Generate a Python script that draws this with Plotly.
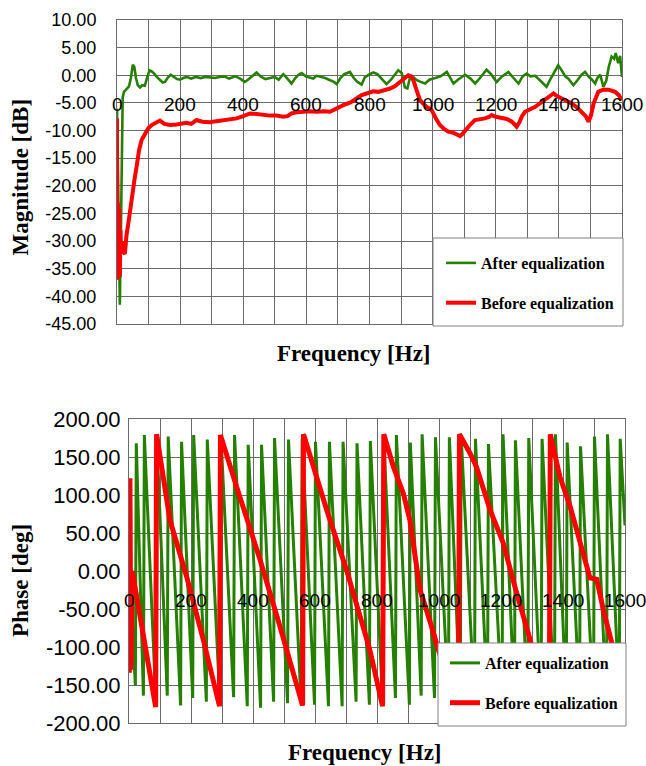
import plotly.graph_objects as go

# ---------------- data ----------------
mag_after_hz = [0, 3, 6, 9, 12, 15, 18, 22, 30, 38, 44, 50, 55, 60, 66, 73, 80, 88, 95, 103, 110, 118, 126, 135, 145, 152, 160, 170, 180, 190, 200, 210, 222, 235, 250, 265, 280, 295, 310, 325, 340, 355, 365, 375, 390, 405, 415, 428, 442, 455, 470, 485, 500, 512, 527, 540, 553, 565, 575, 585, 598, 610, 622, 632, 645, 660, 675, 687, 696, 708, 720, 738, 750, 762, 775, 785, 798, 812, 825, 840, 854, 868, 880, 891, 902, 912, 920, 928, 938, 950, 962, 976, 990, 1007, 1025, 1045, 1055, 1066, 1080, 1093, 1103, 1120, 1135, 1150, 1160, 1171, 1185, 1203, 1220, 1240, 1255, 1272, 1285, 1298, 1310, 1325, 1340, 1361, 1375, 1388, 1398, 1410, 1420, 1430, 1446, 1460, 1472, 1483, 1495, 1505, 1515, 1522, 1531, 1541, 1550, 1558, 1567, 1575, 1580, 1588, 1594, 1600]
mag_after_db = [-6, -20, -38, -41.5, -30, -12, -4, -3, -2.5, -2, -0.5, 1.9, 1.5, -0.5, -1.8, -2.2, -1.8, -1.9, -0.5, 0.9, 0.7, 0.3, -0.3, -0.8, -1.3, -1.2, -0.5, 0.1, -0.3, -0.7, -0.8, -0.5, -0.3, -0.6, -0.3, -0.5, -0.3, -0.4, -0.5, -0.3, -0.2, -0.6, -0.4, -0.2, -0.6, -1.2, -0.8, -0.2, 0.5, -0.2, -0.7, -0.5, -0.3, -0.8, 0.2, -0.6, -1.5, -0.5, 0.1, 0.4, -0.2, -0.4, -0.6, -0.1, -0.3, -0.5, -0.9, -1.2, -1.6, -0.5, 0.2, 0.6, -0.5, -1.2, -1.7, -0.4, 0.1, 0.5, 0.2, -0.8, -1.6, -0.8, 0.2, 0.9, 0.4, -2.2, -2.4, -0.5, -0.3, -0.9, -1.2, -1.5, -0.8, -0.5, -0.2, 0.6, -0.5, -1.5, -0.8, -0.2, 0.1, -0.6, -1.5, -0.5, 0.3, 1.0, 0.2, -1.2, -0.2, 0.6, -0.4, -1.5, -0.2, 0.3, -0.2, -0.1, -0.9, -2.1, -0.5, 0.8, 1.8, 0.8, -0.2, -0.6, -1.8, -0.8, 0.1, 0.6, -0.3, -0.8, -1.5, -0.5, 0.1, -2.1, -1.0, 1.5, 3.4, 3.0, 4.0, 2.2, 3.5, -0.3]

mag_before_hz = [0, 1, 3, 5, 7, 9, 11, 13, 16, 20, 25, 30, 38, 46, 55, 62, 70, 78, 88, 99, 110, 126, 136, 150, 168, 189, 200, 220, 235, 252, 270, 295, 315, 337, 358, 379, 400, 421, 442, 462, 485, 505, 527, 540, 553, 570, 590, 610, 633, 655, 675, 695, 717, 740, 760, 775, 791, 812, 828, 845, 865, 880, 891, 905, 915, 923, 932, 939, 948, 960, 978, 997, 1010, 1023, 1036, 1050, 1065, 1078, 1087, 1095, 1103, 1118, 1134, 1150, 1166, 1180, 1187, 1200, 1219, 1235, 1251, 1260, 1266, 1275, 1283, 1293, 1310, 1325, 1340, 1356, 1370, 1383, 1395, 1409, 1425, 1441, 1457, 1472, 1485, 1494, 1502, 1510, 1518, 1525, 1540, 1557, 1568, 1578, 1590, 1600]
mag_before_db = [-7.8, -37, -23, -36, -24, -36.5, -28, -32, -30, -32, -32.3, -29, -26, -22, -19, -16.6, -13.5, -11.7, -10.5, -9.6, -9.0, -8.5, -8.2, -8.8, -9.0, -8.9, -8.8, -8.6, -8.8, -8.1, -8.4, -8.5, -8.3, -8.1, -8.0, -7.8, -7.4, -6.9, -7.0, -7.2, -7.3, -7.3, -7.5, -7.4, -6.9, -6.7, -6.6, -6.5, -6.6, -6.5, -6.6, -6.0, -5.4, -4.9, -4.2, -3.6, -3.3, -2.9, -3.0, -2.8, -2.4, -2.0, -1.5, -0.8, -0.3, 0.0, -0.2, -0.9, -2.5, -4.5, -5.6, -6.3, -7.8, -9.0, -9.7, -10.2, -10.4, -10.7, -11.0, -10.6, -10.0, -9.0, -8.1, -8.0, -7.8, -7.5, -7.2, -7.5, -7.8, -7.9, -8.4, -9.0, -9.3, -8.5, -7.4, -6.6, -6.2, -5.7, -5.1, -4.5, -3.8, -3.3, -3.8, -4.2, -4.6, -5.1, -5.8, -6.6, -7.4, -8.4, -7.2, -5.1, -3.8, -3.0, -2.6, -2.6, -2.8, -3.0, -3.6, -4.5]

# phase after equalization: wrap frequencies with trough (before) and peak (after) values
green_start_hz, green_start_deg = 0, 20
green_jump_hz = [22, 48, 88, 125, 168, 207, 251, 295, 339, 383, 426, 468, 513, 557, 600, 645, 689, 734, 777, 820, 861, 906, 944, 987, 1032, 1070, 1116, 1158, 1205, 1245, 1288, 1331, 1374, 1412, 1455, 1500, 1542, 1583]
green_trough_deg = [-151, -164, -170, -164, -177, -167, -172, -175, -166, -178, -180, -172, -174, -176, -176, -178, -178, -172, -176, -175, -167, -176, -164, -167, -172, -175, -174, -170, -176, -172, -175, -178, -172, -176, -170, -175, -178, -172]
green_peak_deg = [168, 179, 178, 177, 170, 179, 173, 178, 179, 166, 166, 175, 173, 174, 170, 170, 170, 168, 171, 178, 179, 169, 180, 176, 176, 178, 174, 167, 180, 172, 175, 174, 180, 169, 164, 177, 180, 174]
green_end_hz, green_end_deg = 1600, 60

phase_before_hz = [1, 3, 6, 10, 25, 86, 89, 132, 186, 240, 292, 295, 347, 423, 487, 560, 563, 638, 702, 767, 777, 818, 822, 853, 885, 906, 939, 976, 998, 1063, 1066, 1100, 1121, 1165, 1207, 1245, 1272, 1299, 1356, 1359, 1390, 1423, 1455, 1487, 1509, 1530, 1557, 1600]
phase_before_deg = [-134, 122, -130, 0, -34, -179, 180, 67, -7.5, -91, -178, 179, 111, 14.5, -73, -177, 180, 80, 1, -86, -104, -178, 180, 137, 102, 67, -25, -73, -104, -179, 180, 155, 137, 80, 37, -21, -60, -94, -179, 180, 124, 85, 37, -9, -11, -51, -94, -160]

mag_ticks = [10, 5, 0, -5, -10, -15, -20, -25, -30, -35, -40, -45]
phase_ticks = [200, 150, 100, 50, 0, -50, -100, -150, -200]
freq_grid = list(range(0, 1601, 100))
freq_labels = [0, 200, 400, 600, 800, 1000, 1200, 1400, 1600]

names = ["After equalization", "Before equalization"]

# ---------------- build green phase polyline ----------------
g_hz = [green_start_hz]
g_deg = [green_start_deg]
for j, t, p in zip(green_jump_hz, green_trough_deg, green_peak_deg):
    g_hz += [j - 1.5, j + 1.5]
    g_deg += [t, p]
g_hz.append(green_end_hz)
g_deg.append(green_end_deg)

W, H = 646, 766
GREEN = "#268000"
RED = "#ff0000"
GRID = "#6a6a6a"
TICKFONT = "Liberation Sans, Arial, sans-serif"
SERIF = "Liberation Serif, Times New Roman, serif"


def fmt(v):
    return f"{v:.2f}"


fig = go.Figure()
fig.add_trace(go.Scatter(x=mag_after_hz, y=mag_after_db, mode="lines", name=names[0],
                         line=dict(color=GREEN, width=2.6), xaxis="x", yaxis="y",
                         legend="legend", legendgroup="a"))
fig.add_trace(go.Scatter(x=mag_before_hz, y=mag_before_db, mode="lines", name=names[1],
                         line=dict(color=RED, width=4), xaxis="x", yaxis="y",
                         legend="legend", legendgroup="b"))
fig.add_trace(go.Scatter(x=g_hz, y=g_deg, mode="lines", name=names[0],
                         line=dict(color=GREEN, width=3), xaxis="x2", yaxis="y2",
                         legend="legend2", legendgroup="c"))
fig.add_trace(go.Scatter(x=phase_before_hz, y=phase_before_deg, mode="lines", name=names[1],
                         line=dict(color=RED, width=5), xaxis="x2", yaxis="y2",
                         legend="legend2", legendgroup="d"))

axis_common = dict(showgrid=True, gridcolor=GRID, gridwidth=1, zeroline=False,
                   showline=True, linecolor=GRID, linewidth=1, mirror=True, ticks="",
                   automargin=False)

legend_font = dict(family=SERIF, size=16, color="black", weight="bold")

fig.update_layout(
    width=W, height=H,
    margin=dict(l=0, r=0, t=0, b=0, autoexpand=False),
    paper_bgcolor="white", plot_bgcolor="white",
    hovermode=False,
    xaxis=dict(domain=[117 / W, 622 / W], range=[0, 1600], tickvals=freq_grid,
               showticklabels=False, anchor="y", **axis_common),
    yaxis=dict(domain=[1 - 324 / H, 1 - 20 / H], range=[-45, 10], tickvals=mag_ticks,
               ticktext=[fmt(v) for v in mag_ticks], anchor="x",
               tickfont=dict(family=TICKFONT, size=18, color="black"),
               ticklabelstandoff=16, **axis_common),
    xaxis2=dict(domain=[129 / W, 625 / W], range=[0, 1600], tickvals=freq_grid,
                showticklabels=False, anchor="y2", **axis_common),
    yaxis2=dict(domain=[1 - 723 / H, 1 - 419 / H], range=[-200, 200], tickvals=phase_ticks,
                ticktext=[fmt(v) for v in phase_ticks], anchor="x2",
                tickfont=dict(family=TICKFONT, size=22, color="black"),
                ticklabelstandoff=3, **axis_common),
    legend=dict(x=441 / W, y=1 - 246 / H, xanchor="left", yanchor="top",
                bgcolor="rgba(0,0,0,0)", borderwidth=0, font=legend_font,
                tracegroupgap=16, itemwidth=30),
    legend2=dict(x=445 / W, y=1 - 646 / H, xanchor="left", yanchor="top",
                 bgcolor="rgba(0,0,0,0)", borderwidth=0, font=legend_font,
                 tracegroupgap=16, itemwidth=30),
    showlegend=True,
    shapes=[
        dict(type="rect", xref="paper", yref="paper", x0=433 / W, x1=623 / W,
             y0=1 - 326 / H, y1=1 - 238 / H, fillcolor="white",
             line=dict(color="#808080", width=1), layer="above"),
        dict(type="rect", xref="paper", yref="paper", x0=438 / W, x1=626 / W,
             y0=1 - 726 / H, y1=1 - 643 / H, fillcolor="white",
             line=dict(color="#808080", width=1), layer="above"),
    ],
)

annotations = []
for xr, yr in (("x", "y"), ("x2", "y2")):
    for v in freq_labels:
        annotations.append(dict(x=v, y=0, xref=xr, yref=yr, text=str(v), showarrow=False,
                                yshift=-29, yanchor="middle", xanchor="center",
                                font=dict(family=TICKFONT, size=19, color="black")))

title_font = dict(family=SERIF, size=23, color="black", weight="bold")
annotations += [
    dict(x=354 / W, y=1 - 353 / H, xref="paper", yref="paper", text="Frequency [Hz]",
         showarrow=False, xanchor="center", yanchor="middle", font=title_font),
    dict(x=364.5 / W, y=1 - 752 / H, xref="paper", yref="paper", text="Frequency [Hz]",
         showarrow=False, xanchor="center", yanchor="middle", font=title_font),
    dict(x=20 / W, y=1 - 177.5 / H, xref="paper", yref="paper", text="Magnitude [dB]",
         showarrow=False, xanchor="center", yanchor="middle", textangle=-90, font=title_font),
    dict(x=20 / W, y=1 - 581 / H, xref="paper", yref="paper", text="Phase [deg]",
         showarrow=False, xanchor="center", yanchor="middle", textangle=-90, font=title_font),
]
fig.update_layout(annotations=annotations)

fig.write_html("out.html", config={"displayModeBar": False, "staticPlot": True},
               post_script="document.body.style.margin='0';document.body.style.padding='0';")
